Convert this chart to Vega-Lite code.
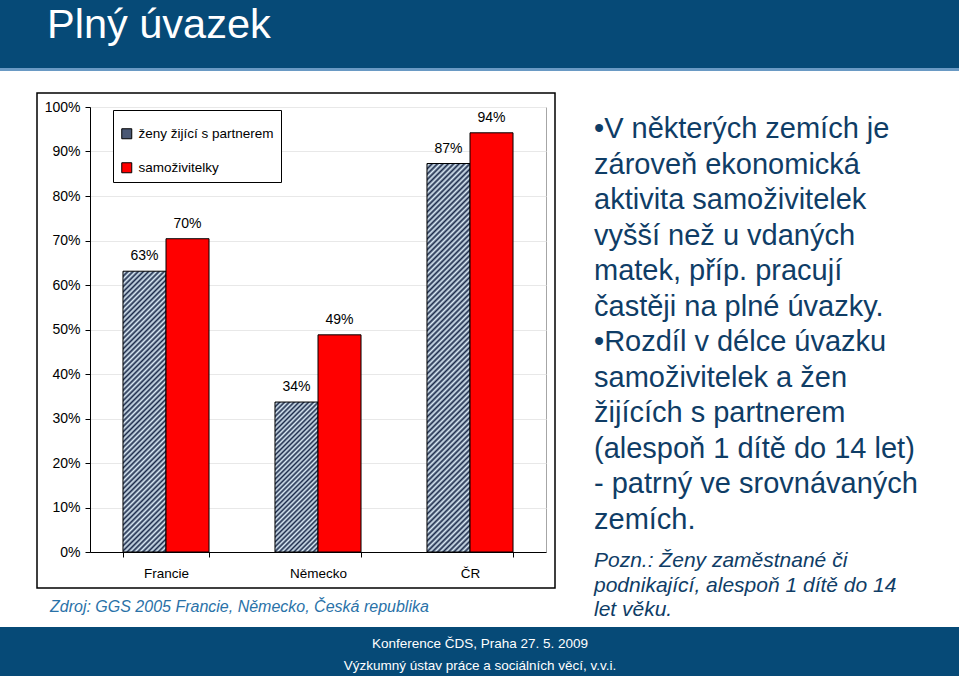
{
  "$schema": "https://vega.github.io/schema/vega-lite/v6.json",
  "width": 456,
  "height": 445,
  "autosize": {"type": "none"},
  "padding": {"left": 90, "top": 107, "right": 413, "bottom": 124},
  "background": "white",
  "config": {"font": "Liberation Sans", "view": {"stroke": "#a6a6a6", "strokeWidth": 1}},
  "datasets": {
    "bars": [
      {"country": "Francie", "series": "ženy žijící s partnerem", "value": 0.631},
      {"country": "Francie", "series": "samoživitelky", "value": 0.704},
      {"country": "Německo", "series": "ženy žijící s partnerem", "value": 0.337},
      {"country": "Německo", "series": "samoživitelky", "value": 0.488},
      {"country": "ČR", "series": "ženy žijící s partnerem", "value": 0.873},
      {"country": "ČR", "series": "samoživitelky", "value": 0.942}
    ]
  },
  "layer": [
    {"data": {"values": [{}]}, "mark": {"type": "rect", "x": -90, "x2": 869, "y": -107, "y2": -39, "fill": "#064a77"}, "encoding": {}},
    {"data": {"values": [{}]}, "mark": {"type": "rect", "x": -90, "x2": 869, "y": -39, "y2": -36, "fill": "#6a9ac4"}, "encoding": {}},
    {"data": {"values": [{}]}, "mark": {"type": "rect", "x": -90, "x2": 869, "y": 520, "y2": 569, "fill": "#064a77"}, "encoding": {}},
    {"data": {"values": [{}]}, "mark": {"type": "rect", "x": -53, "x2": 465, "y": -14, "y2": 481, "filled": false, "stroke": "black", "strokeWidth": 1.5}, "encoding": {}},
    {
      "data": {"name": "bars"},
      "transform": [{"filter": "datum.country === 'Francie' && datum.series === 'ženy žijící s partnerem'"}],
      "mark": {"type": "bar", "stroke": "black", "strokeWidth": 1, "fill": {"gradient": "linear", "x1": 0, "y1": 0, "x2": 0.1725, "y2": 1.1267, "stops": [
        {"offset":0,"color":"#1b2a4a"},{"offset":0.008,"color":"#dcecf7"},{"offset":0.016,"color":"#1b2a4a"},{"offset":0.024,"color":"#dcecf7"},{"offset":0.032,"color":"#1b2a4a"},{"offset":0.04,"color":"#dcecf7"},{"offset":0.048,"color":"#1b2a4a"},{"offset":0.056,"color":"#dcecf7"},{"offset":0.064,"color":"#1b2a4a"},{"offset":0.072,"color":"#dcecf7"},
        {"offset":0.08,"color":"#1b2a4a"},{"offset":0.088,"color":"#dcecf7"},{"offset":0.096,"color":"#1b2a4a"},{"offset":0.104,"color":"#dcecf7"},{"offset":0.112,"color":"#1b2a4a"},{"offset":0.12,"color":"#dcecf7"},{"offset":0.128,"color":"#1b2a4a"},{"offset":0.136,"color":"#dcecf7"},{"offset":0.144,"color":"#1b2a4a"},{"offset":0.152,"color":"#dcecf7"},
        {"offset":0.16,"color":"#1b2a4a"},{"offset":0.168,"color":"#dcecf7"},{"offset":0.176,"color":"#1b2a4a"},{"offset":0.184,"color":"#dcecf7"},{"offset":0.192,"color":"#1b2a4a"},{"offset":0.2,"color":"#dcecf7"},{"offset":0.208,"color":"#1b2a4a"},{"offset":0.216,"color":"#dcecf7"},{"offset":0.224,"color":"#1b2a4a"},{"offset":0.232,"color":"#dcecf7"},
        {"offset":0.24,"color":"#1b2a4a"},{"offset":0.248,"color":"#dcecf7"},{"offset":0.256,"color":"#1b2a4a"},{"offset":0.264,"color":"#dcecf7"},{"offset":0.272,"color":"#1b2a4a"},{"offset":0.28,"color":"#dcecf7"},{"offset":0.288,"color":"#1b2a4a"},{"offset":0.296,"color":"#dcecf7"},{"offset":0.304,"color":"#1b2a4a"},{"offset":0.312,"color":"#dcecf7"},
        {"offset":0.32,"color":"#1b2a4a"},{"offset":0.328,"color":"#dcecf7"},{"offset":0.336,"color":"#1b2a4a"},{"offset":0.344,"color":"#dcecf7"},{"offset":0.352,"color":"#1b2a4a"},{"offset":0.36,"color":"#dcecf7"},{"offset":0.368,"color":"#1b2a4a"},{"offset":0.376,"color":"#dcecf7"},{"offset":0.384,"color":"#1b2a4a"},{"offset":0.392,"color":"#dcecf7"},
        {"offset":0.4,"color":"#1b2a4a"},{"offset":0.408,"color":"#dcecf7"},{"offset":0.416,"color":"#1b2a4a"},{"offset":0.424,"color":"#dcecf7"},{"offset":0.432,"color":"#1b2a4a"},{"offset":0.44,"color":"#dcecf7"},{"offset":0.448,"color":"#1b2a4a"},{"offset":0.456,"color":"#dcecf7"},{"offset":0.464,"color":"#1b2a4a"},{"offset":0.472,"color":"#dcecf7"},
        {"offset":0.48,"color":"#1b2a4a"},{"offset":0.488,"color":"#dcecf7"},{"offset":0.496,"color":"#1b2a4a"},{"offset":0.504,"color":"#dcecf7"},{"offset":0.512,"color":"#1b2a4a"},{"offset":0.52,"color":"#dcecf7"},{"offset":0.528,"color":"#1b2a4a"},{"offset":0.536,"color":"#dcecf7"},{"offset":0.544,"color":"#1b2a4a"},{"offset":0.552,"color":"#dcecf7"},
        {"offset":0.56,"color":"#1b2a4a"},{"offset":0.568,"color":"#dcecf7"},{"offset":0.576,"color":"#1b2a4a"},{"offset":0.584,"color":"#dcecf7"},{"offset":0.592,"color":"#1b2a4a"},{"offset":0.6,"color":"#dcecf7"},{"offset":0.608,"color":"#1b2a4a"},{"offset":0.616,"color":"#dcecf7"},{"offset":0.624,"color":"#1b2a4a"},{"offset":0.632,"color":"#dcecf7"},
        {"offset":0.64,"color":"#1b2a4a"},{"offset":0.648,"color":"#dcecf7"},{"offset":0.656,"color":"#1b2a4a"},{"offset":0.664,"color":"#dcecf7"},{"offset":0.672,"color":"#1b2a4a"},{"offset":0.68,"color":"#dcecf7"},{"offset":0.688,"color":"#1b2a4a"},{"offset":0.696,"color":"#dcecf7"},{"offset":0.704,"color":"#1b2a4a"},{"offset":0.712,"color":"#dcecf7"},
        {"offset":0.72,"color":"#1b2a4a"},{"offset":0.728,"color":"#dcecf7"},{"offset":0.736,"color":"#1b2a4a"},{"offset":0.744,"color":"#dcecf7"},{"offset":0.752,"color":"#1b2a4a"},{"offset":0.76,"color":"#dcecf7"},{"offset":0.768,"color":"#1b2a4a"},{"offset":0.776,"color":"#dcecf7"},{"offset":0.784,"color":"#1b2a4a"},{"offset":0.792,"color":"#dcecf7"},
        {"offset":0.8,"color":"#1b2a4a"},{"offset":0.808,"color":"#dcecf7"},{"offset":0.816,"color":"#1b2a4a"},{"offset":0.824,"color":"#dcecf7"},{"offset":0.832,"color":"#1b2a4a"},{"offset":0.84,"color":"#dcecf7"},{"offset":0.848,"color":"#1b2a4a"},{"offset":0.856,"color":"#dcecf7"},{"offset":0.864,"color":"#1b2a4a"},{"offset":0.872,"color":"#dcecf7"},
        {"offset":0.88,"color":"#1b2a4a"},{"offset":0.888,"color":"#dcecf7"},{"offset":0.896,"color":"#1b2a4a"},{"offset":0.904,"color":"#dcecf7"},{"offset":0.912,"color":"#1b2a4a"},{"offset":0.92,"color":"#dcecf7"},{"offset":0.928,"color":"#1b2a4a"},{"offset":0.936,"color":"#dcecf7"},{"offset":0.944,"color":"#1b2a4a"},{"offset":0.952,"color":"#dcecf7"},
        {"offset":0.96,"color":"#1b2a4a"},{"offset":0.968,"color":"#dcecf7"},{"offset":0.976,"color":"#1b2a4a"},{"offset":0.984,"color":"#dcecf7"},{"offset":0.992,"color":"#1b2a4a"},{"offset":1,"color":"#dcecf7"}
      ]}},
      "encoding": {
        "x": {"field": "country", "type": "nominal", "scale": {"domain": ["Francie", "Německo", "ČR"], "paddingInner": 0.434, "paddingOuter": 0.217},
          "axis": {"title": null, "labelAngle": 0, "tickBand": "extent", "domainColor": "black", "tickColor": "black", "tickSize": 5, "labelFontSize": 13.5, "labelColor": "black", "labelPadding": 9, "grid": false}},
        "xOffset": {"field": "series", "type": "nominal", "scale": {"domain": ["ženy žijící s partnerem", "samoživitelky"], "paddingInner": 0, "paddingOuter": 0}},
        "y": {"field": "value", "type": "quantitative", "scale": {"domain": [0, 1]},
          "axis": {"title": null, "format": ".0%", "values": [0, 0.1, 0.2, 0.3, 0.4, 0.5, 0.6, 0.7, 0.8, 0.9, 1], "domainColor": "black", "tickColor": "black", "tickSize": 5, "labelFontSize": 14, "labelColor": "black", "labelPadding": 5, "grid": true, "gridColor": "#e8e8e8"}}
      }
    },
    {
      "data": {"name": "bars"},
      "transform": [{"filter": "datum.country === 'Německo' && datum.series === 'ženy žijící s partnerem'"}],
      "mark": {"type": "bar", "stroke": "black", "strokeWidth": 1, "fill": {"gradient": "linear", "x1": 0, "y1": 0, "x2": 0.3409, "y2": 1.189, "stops": [
        {"offset":0,"color":"#1b2a4a"},{"offset":0.0125,"color":"#dcecf7"},{"offset":0.025,"color":"#1b2a4a"},{"offset":0.0375,"color":"#dcecf7"},{"offset":0.05,"color":"#1b2a4a"},{"offset":0.0625,"color":"#dcecf7"},{"offset":0.075,"color":"#1b2a4a"},{"offset":0.0875,"color":"#dcecf7"},
        {"offset":0.1,"color":"#1b2a4a"},{"offset":0.1125,"color":"#dcecf7"},{"offset":0.125,"color":"#1b2a4a"},{"offset":0.1375,"color":"#dcecf7"},{"offset":0.15,"color":"#1b2a4a"},{"offset":0.1625,"color":"#dcecf7"},{"offset":0.175,"color":"#1b2a4a"},{"offset":0.1875,"color":"#dcecf7"},
        {"offset":0.2,"color":"#1b2a4a"},{"offset":0.2125,"color":"#dcecf7"},{"offset":0.225,"color":"#1b2a4a"},{"offset":0.2375,"color":"#dcecf7"},{"offset":0.25,"color":"#1b2a4a"},{"offset":0.2625,"color":"#dcecf7"},{"offset":0.275,"color":"#1b2a4a"},{"offset":0.2875,"color":"#dcecf7"},
        {"offset":0.3,"color":"#1b2a4a"},{"offset":0.3125,"color":"#dcecf7"},{"offset":0.325,"color":"#1b2a4a"},{"offset":0.3375,"color":"#dcecf7"},{"offset":0.35,"color":"#1b2a4a"},{"offset":0.3625,"color":"#dcecf7"},{"offset":0.375,"color":"#1b2a4a"},{"offset":0.3875,"color":"#dcecf7"},
        {"offset":0.4,"color":"#1b2a4a"},{"offset":0.4125,"color":"#dcecf7"},{"offset":0.425,"color":"#1b2a4a"},{"offset":0.4375,"color":"#dcecf7"},{"offset":0.45,"color":"#1b2a4a"},{"offset":0.4625,"color":"#dcecf7"},{"offset":0.475,"color":"#1b2a4a"},{"offset":0.4875,"color":"#dcecf7"},
        {"offset":0.5,"color":"#1b2a4a"},{"offset":0.5125,"color":"#dcecf7"},{"offset":0.525,"color":"#1b2a4a"},{"offset":0.5375,"color":"#dcecf7"},{"offset":0.55,"color":"#1b2a4a"},{"offset":0.5625,"color":"#dcecf7"},{"offset":0.575,"color":"#1b2a4a"},{"offset":0.5875,"color":"#dcecf7"},
        {"offset":0.6,"color":"#1b2a4a"},{"offset":0.6125,"color":"#dcecf7"},{"offset":0.625,"color":"#1b2a4a"},{"offset":0.6375,"color":"#dcecf7"},{"offset":0.65,"color":"#1b2a4a"},{"offset":0.6625,"color":"#dcecf7"},{"offset":0.675,"color":"#1b2a4a"},{"offset":0.6875,"color":"#dcecf7"},
        {"offset":0.7,"color":"#1b2a4a"},{"offset":0.7125,"color":"#dcecf7"},{"offset":0.725,"color":"#1b2a4a"},{"offset":0.7375,"color":"#dcecf7"},{"offset":0.75,"color":"#1b2a4a"},{"offset":0.7625,"color":"#dcecf7"},{"offset":0.775,"color":"#1b2a4a"},{"offset":0.7875,"color":"#dcecf7"},
        {"offset":0.8,"color":"#1b2a4a"},{"offset":0.8125,"color":"#dcecf7"},{"offset":0.825,"color":"#1b2a4a"},{"offset":0.8375,"color":"#dcecf7"},{"offset":0.85,"color":"#1b2a4a"},{"offset":0.8625,"color":"#dcecf7"},{"offset":0.875,"color":"#1b2a4a"},{"offset":0.8875,"color":"#dcecf7"},
        {"offset":0.9,"color":"#1b2a4a"},{"offset":0.9125,"color":"#dcecf7"},{"offset":0.925,"color":"#1b2a4a"},{"offset":0.9375,"color":"#dcecf7"},{"offset":0.95,"color":"#1b2a4a"},{"offset":0.9625,"color":"#dcecf7"},{"offset":0.975,"color":"#1b2a4a"},{"offset":0.9875,"color":"#dcecf7"},
        {"offset":1,"color":"#1b2a4a"}
      ]}},
      "encoding": {
        "x": {"field": "country", "type": "nominal", "scale": {"domain": ["Francie", "Německo", "ČR"]}},
        "xOffset": {"field": "series", "type": "nominal", "scale": {"domain": ["ženy žijící s partnerem", "samoživitelky"]}},
        "y": {"field": "value", "type": "quantitative", "scale": {"domain": [0, 1]}}
      }
    },
    {
      "data": {"name": "bars"},
      "transform": [{"filter": "datum.country === 'ČR' && datum.series === 'ženy žijící s partnerem'"}],
      "mark": {"type": "bar", "stroke": "black", "strokeWidth": 1, "fill": {"gradient": "linear", "x1": 0, "y1": 0, "x2": 0.1214, "y2": 1.0972, "stops": [
        {"offset":0,"color":"#1b2a4a"},{"offset":0.00625,"color":"#dcecf7"},{"offset":0.0125,"color":"#1b2a4a"},{"offset":0.01875,"color":"#dcecf7"},{"offset":0.025,"color":"#1b2a4a"},{"offset":0.03125,"color":"#dcecf7"},{"offset":0.0375,"color":"#1b2a4a"},{"offset":0.04375,"color":"#dcecf7"},
        {"offset":0.05,"color":"#1b2a4a"},{"offset":0.05625,"color":"#dcecf7"},{"offset":0.0625,"color":"#1b2a4a"},{"offset":0.06875,"color":"#dcecf7"},{"offset":0.075,"color":"#1b2a4a"},{"offset":0.08125,"color":"#dcecf7"},{"offset":0.0875,"color":"#1b2a4a"},{"offset":0.09375,"color":"#dcecf7"},
        {"offset":0.1,"color":"#1b2a4a"},{"offset":0.10625,"color":"#dcecf7"},{"offset":0.1125,"color":"#1b2a4a"},{"offset":0.11875,"color":"#dcecf7"},{"offset":0.125,"color":"#1b2a4a"},{"offset":0.13125,"color":"#dcecf7"},{"offset":0.1375,"color":"#1b2a4a"},{"offset":0.14375,"color":"#dcecf7"},
        {"offset":0.15,"color":"#1b2a4a"},{"offset":0.15625,"color":"#dcecf7"},{"offset":0.1625,"color":"#1b2a4a"},{"offset":0.16875,"color":"#dcecf7"},{"offset":0.175,"color":"#1b2a4a"},{"offset":0.18125,"color":"#dcecf7"},{"offset":0.1875,"color":"#1b2a4a"},{"offset":0.19375,"color":"#dcecf7"},
        {"offset":0.2,"color":"#1b2a4a"},{"offset":0.20625,"color":"#dcecf7"},{"offset":0.2125,"color":"#1b2a4a"},{"offset":0.21875,"color":"#dcecf7"},{"offset":0.225,"color":"#1b2a4a"},{"offset":0.23125,"color":"#dcecf7"},{"offset":0.2375,"color":"#1b2a4a"},{"offset":0.24375,"color":"#dcecf7"},
        {"offset":0.25,"color":"#1b2a4a"},{"offset":0.25625,"color":"#dcecf7"},{"offset":0.2625,"color":"#1b2a4a"},{"offset":0.26875,"color":"#dcecf7"},{"offset":0.275,"color":"#1b2a4a"},{"offset":0.28125,"color":"#dcecf7"},{"offset":0.2875,"color":"#1b2a4a"},{"offset":0.29375,"color":"#dcecf7"},
        {"offset":0.3,"color":"#1b2a4a"},{"offset":0.30625,"color":"#dcecf7"},{"offset":0.3125,"color":"#1b2a4a"},{"offset":0.31875,"color":"#dcecf7"},{"offset":0.325,"color":"#1b2a4a"},{"offset":0.33125,"color":"#dcecf7"},{"offset":0.3375,"color":"#1b2a4a"},{"offset":0.34375,"color":"#dcecf7"},
        {"offset":0.35,"color":"#1b2a4a"},{"offset":0.35625,"color":"#dcecf7"},{"offset":0.3625,"color":"#1b2a4a"},{"offset":0.36875,"color":"#dcecf7"},{"offset":0.375,"color":"#1b2a4a"},{"offset":0.38125,"color":"#dcecf7"},{"offset":0.3875,"color":"#1b2a4a"},{"offset":0.39375,"color":"#dcecf7"},
        {"offset":0.4,"color":"#1b2a4a"},{"offset":0.40625,"color":"#dcecf7"},{"offset":0.4125,"color":"#1b2a4a"},{"offset":0.41875,"color":"#dcecf7"},{"offset":0.425,"color":"#1b2a4a"},{"offset":0.43125,"color":"#dcecf7"},{"offset":0.4375,"color":"#1b2a4a"},{"offset":0.44375,"color":"#dcecf7"},
        {"offset":0.45,"color":"#1b2a4a"},{"offset":0.45625,"color":"#dcecf7"},{"offset":0.4625,"color":"#1b2a4a"},{"offset":0.46875,"color":"#dcecf7"},{"offset":0.475,"color":"#1b2a4a"},{"offset":0.48125,"color":"#dcecf7"},{"offset":0.4875,"color":"#1b2a4a"},{"offset":0.49375,"color":"#dcecf7"},
        {"offset":0.5,"color":"#1b2a4a"},{"offset":0.50625,"color":"#dcecf7"},{"offset":0.5125,"color":"#1b2a4a"},{"offset":0.51875,"color":"#dcecf7"},{"offset":0.525,"color":"#1b2a4a"},{"offset":0.53125,"color":"#dcecf7"},{"offset":0.5375,"color":"#1b2a4a"},{"offset":0.54375,"color":"#dcecf7"},
        {"offset":0.55,"color":"#1b2a4a"},{"offset":0.55625,"color":"#dcecf7"},{"offset":0.5625,"color":"#1b2a4a"},{"offset":0.56875,"color":"#dcecf7"},{"offset":0.575,"color":"#1b2a4a"},{"offset":0.58125,"color":"#dcecf7"},{"offset":0.5875,"color":"#1b2a4a"},{"offset":0.59375,"color":"#dcecf7"},
        {"offset":0.6,"color":"#1b2a4a"},{"offset":0.60625,"color":"#dcecf7"},{"offset":0.6125,"color":"#1b2a4a"},{"offset":0.61875,"color":"#dcecf7"},{"offset":0.625,"color":"#1b2a4a"},{"offset":0.63125,"color":"#dcecf7"},{"offset":0.6375,"color":"#1b2a4a"},{"offset":0.64375,"color":"#dcecf7"},
        {"offset":0.65,"color":"#1b2a4a"},{"offset":0.65625,"color":"#dcecf7"},{"offset":0.6625,"color":"#1b2a4a"},{"offset":0.66875,"color":"#dcecf7"},{"offset":0.675,"color":"#1b2a4a"},{"offset":0.68125,"color":"#dcecf7"},{"offset":0.6875,"color":"#1b2a4a"},{"offset":0.69375,"color":"#dcecf7"},
        {"offset":0.7,"color":"#1b2a4a"},{"offset":0.70625,"color":"#dcecf7"},{"offset":0.7125,"color":"#1b2a4a"},{"offset":0.71875,"color":"#dcecf7"},{"offset":0.725,"color":"#1b2a4a"},{"offset":0.73125,"color":"#dcecf7"},{"offset":0.7375,"color":"#1b2a4a"},{"offset":0.74375,"color":"#dcecf7"},
        {"offset":0.75,"color":"#1b2a4a"},{"offset":0.75625,"color":"#dcecf7"},{"offset":0.7625,"color":"#1b2a4a"},{"offset":0.76875,"color":"#dcecf7"},{"offset":0.775,"color":"#1b2a4a"},{"offset":0.78125,"color":"#dcecf7"},{"offset":0.7875,"color":"#1b2a4a"},{"offset":0.79375,"color":"#dcecf7"},
        {"offset":0.8,"color":"#1b2a4a"},{"offset":0.80625,"color":"#dcecf7"},{"offset":0.8125,"color":"#1b2a4a"},{"offset":0.81875,"color":"#dcecf7"},{"offset":0.825,"color":"#1b2a4a"},{"offset":0.83125,"color":"#dcecf7"},{"offset":0.8375,"color":"#1b2a4a"},{"offset":0.84375,"color":"#dcecf7"},
        {"offset":0.85,"color":"#1b2a4a"},{"offset":0.85625,"color":"#dcecf7"},{"offset":0.8625,"color":"#1b2a4a"},{"offset":0.86875,"color":"#dcecf7"},{"offset":0.875,"color":"#1b2a4a"},{"offset":0.88125,"color":"#dcecf7"},{"offset":0.8875,"color":"#1b2a4a"},{"offset":0.89375,"color":"#dcecf7"},
        {"offset":0.9,"color":"#1b2a4a"},{"offset":0.90625,"color":"#dcecf7"},{"offset":0.9125,"color":"#1b2a4a"},{"offset":0.91875,"color":"#dcecf7"},{"offset":0.925,"color":"#1b2a4a"},{"offset":0.93125,"color":"#dcecf7"},{"offset":0.9375,"color":"#1b2a4a"},{"offset":0.94375,"color":"#dcecf7"},
        {"offset":0.95,"color":"#1b2a4a"},{"offset":0.95625,"color":"#dcecf7"},{"offset":0.9625,"color":"#1b2a4a"},{"offset":0.96875,"color":"#dcecf7"},{"offset":0.975,"color":"#1b2a4a"},{"offset":0.98125,"color":"#dcecf7"},{"offset":0.9875,"color":"#1b2a4a"},{"offset":0.99375,"color":"#dcecf7"},
        {"offset":1,"color":"#1b2a4a"}
      ]}},
      "encoding": {
        "x": {"field": "country", "type": "nominal", "scale": {"domain": ["Francie", "Německo", "ČR"]}},
        "xOffset": {"field": "series", "type": "nominal", "scale": {"domain": ["ženy žijící s partnerem", "samoživitelky"]}},
        "y": {"field": "value", "type": "quantitative", "scale": {"domain": [0, 1]}}
      }
    },
    {
      "data": {"name": "bars"},
      "transform": [{"filter": "datum.series === 'samoživitelky'"}],
      "mark": {"type": "bar", "stroke": "black", "strokeWidth": 1, "opacity": 1},
      "encoding": {
        "x": {"field": "country", "type": "nominal", "scale": {"domain": ["Francie", "Německo", "ČR"]}},
        "xOffset": {"field": "series", "type": "nominal", "scale": {"domain": ["ženy žijící s partnerem", "samoživitelky"]}},
        "y": {"field": "value", "type": "quantitative", "scale": {"domain": [0, 1]}},
        "color": {"field": "series", "type": "nominal",
          "scale": {"domain": ["ženy žijící s partnerem", "samoživitelky"], "range": ["#4a5874", "#ff0000"]},
          "legend": {"orient": "none", "legendX": 23, "legendY": 3, "title": " ", "titleFontSize": 8, "titlePadding": 2, "direction": "vertical",
            "symbolType": "square", "symbolSize": 100, "symbolStrokeColor": "black", "symbolStrokeWidth": 1, "symbolOpacity": 1,
            "labelFontSize": 13.5, "labelColor": "black", "labelFont": "Liberation Sans", "labelOffset": 5, "labelLimit": 300,
            "rowPadding": 19, "padding": 7, "strokeColor": "black", "fillColor": "white"}}
      }
    },
    {
      "data": {"name": "bars"},
      "mark": {"type": "text", "fontSize": 14, "fill": "black", "baseline": "alphabetic", "dy": -11},
      "encoding": {
        "x": {"field": "country", "type": "nominal", "scale": {"domain": ["Francie", "Německo", "ČR"]}},
        "xOffset": {"field": "series", "type": "nominal", "scale": {"domain": ["ženy žijící s partnerem", "samoživitelky"]}},
        "y": {"field": "value", "type": "quantitative", "scale": {"domain": [0, 1]}},
        "text": {"field": "value", "type": "quantitative", "format": ".0%"}
      }
    },
    {"data": {"values": [{}]}, "mark": {"type": "text", "text": "Plný úvazek", "x": -43, "y": -69, "align": "left", "baseline": "alphabetic", "fontSize": 41.5, "fill": "white"}, "encoding": {}},
    {"data": {"values": [{}]}, "mark": {"type": "text", "text": ["Konference ČDS, Praha 27. 5. 2009", "Výzkumný ústav práce a sociálních věcí, v.v.i."], "x": 390, "y": 541, "align": "center", "baseline": "alphabetic", "fontSize": 13.5, "lineHeight": 22, "fill": "white"}, "encoding": {}},
    {"data": {"values": [{}]}, "mark": {"type": "text", "text": ["•V některých zemích je", "zároveň ekonomická", "aktivita samoživitelek", "vyšší než u vdaných", "matek, příp. pracují", "častěji na plné úvazky.", "•Rozdíl v délce úvazku", "samoživitelek a žen", "žijících s partnerem", "(alespoň 1 dítě do 14 let)", "- patrný ve srovnávaných", "zemích."], "x": 504, "y": 31, "align": "left", "baseline": "alphabetic", "fontSize": 29, "lineHeight": 35.5, "fill": "#0f3d66"}, "encoding": {}},
    {"data": {"values": [{}]}, "mark": {"type": "text", "text": ["Pozn.: Ženy zaměstnané či", "podnikající, alespoň 1 dítě do 14", "let věku."], "x": 504, "y": 460, "align": "left", "baseline": "alphabetic", "fontSize": 21, "fontStyle": "italic", "lineHeight": 24.5, "fill": "#0f3d66"}, "encoding": {}},
    {"data": {"values": [{}]}, "mark": {"type": "text", "text": "Zdroj: GGS 2005 Francie, Německo, Česká republika", "x": -40, "y": 505, "align": "left", "baseline": "alphabetic", "fontSize": 16, "fontStyle": "italic", "fill": "#2a72a8"}, "encoding": {}}
  ]
}
